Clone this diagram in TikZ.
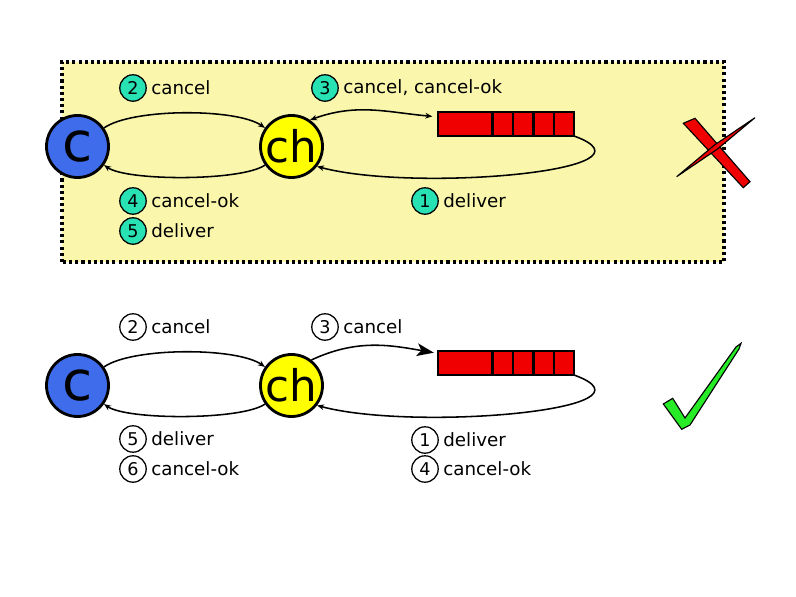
\documentclass[tikz,border=0pt]{standalone}
\usepackage{fontspec}
\setmainfont{DejaVu Sans}
\usetikzlibrary{arrows.meta,positioning,calc}

\definecolor{consumerblue}{RGB}{62,108,234}
\definecolor{channelyellow}{RGB}{255,255,0}
\definecolor{queuered}{RGB}{240,0,0}
\definecolor{stepteal}{RGB}{40,226,180}
\definecolor{boxyellow}{RGB}{250,247,172}
\definecolor{tickgreen}{RGB}{40,235,40}

\begin{document}
\begin{tikzpicture}[x=0.025cm,y=0.025cm,
    >={Stealth[length=5pt,width=4pt]},
    peer/.style={circle,draw,line width=2pt,minimum size=1.55cm,inner sep=0pt},
    queue/.style={draw,line width=1.8pt,fill=queuered,minimum width=3.4cm,minimum height=0.6cm,inner sep=0pt,outer sep=0pt},
    num/.style={circle,draw,line width=0.9pt,minimum size=0.66cm,inner sep=0pt,font=\fontsize{12.5}{14}\selectfont},
    lbl/.style={right=3pt of #1,inner sep=0pt,font=\fontsize{13}{15}\selectfont},
    msg/.style={line width=1.1pt,->},
  ]
    \useasboundingbox (0,0) rectangle (796,597);
    \fill[white] (0,0) rectangle (796,597);

    % top: the wrong way
    \filldraw[fill=boxyellow,line width=2.2pt,dash pattern=on 2.2pt off 2.2pt] (62,335) rectangle (724,535);

    \node[peer,fill=consumerblue,font=\fontsize{39}{40}\selectfont] (c1) at (77.5,450.5) {c};
    \node[peer,fill=channelyellow,font=\fontsize{31}{32}\selectfont] (ch1) at (291.5,450.5) {ch};
    \node[queue] (q1) at (506,473) {};
    \foreach \d in {54.5,75,95.5,116}
        \draw[line width=1.8pt] ($(q1.north west)+(\d,0)$) -- ($(q1.south west)+(\d,0)$);

    \draw[msg] (c1) to[out=35,in=145,looseness=0.55] (ch1);
    \draw[msg] (ch1) to[out=215,in=-35,looseness=0.45] (c1);
    \draw[msg,<->,shorten >=4pt] (ch1.55) to[out=20,in=175] (q1.174);
    \draw[msg] (q1.south east) to[out=-20,in=-15] (ch1.-38);

    \node[num,fill=stepteal] (n2a) at (133,509) {2};
    \node[lbl=n2a] (t2a) {cancel};
    \node[num,fill=stepteal] (n3a) at (325,509) {3};
    \node[lbl=n3a] (t3a) {cancel, cancel-ok};
    \node[num,fill=stepteal] (n4a) at (133,396) {4};
    \node[lbl=n4a] (t4a) {cancel-ok};
    \node[num,fill=stepteal] (n5a) at (133,366) {5};
    \node[lbl=n5a] (t5a) {deliver};
    \node[num,fill=stepteal] (n1a) at (425,396) {1};
    \node[lbl=n1a] (t1a) {deliver};

    % red cross
    \filldraw[fill=queuered,line width=0.8pt] (683.3,473.7) -- (695,478.7) -- (750,415.3) -- (743.3,409.3) -- cycle;
    \filldraw[fill=queuered,line width=0.8pt] (676.7,420.3) -- (714.5,452) -- (755,479.3) -- (717.5,448) -- cycle;

    % bottom: the right way
    \node[peer,fill=consumerblue,font=\fontsize{39}{40}\selectfont] (c2) at (77.5,211.5) {c};
    \node[peer,fill=channelyellow,font=\fontsize{31}{32}\selectfont] (ch2) at (291.5,211.5) {ch};
    \node[queue] (q2) at (506,234) {};
    \foreach \d in {54.5,75,95.5,116}
        \draw[line width=1.8pt] ($(q2.north west)+(\d,0)$) -- ($(q2.south west)+(\d,0)$);

    \draw[msg] (c2) to[out=35,in=145,looseness=0.55] (ch2);
    \draw[msg] (ch2) to[out=215,in=-35,looseness=0.45] (c2);
    \draw[line width=1.1pt,-{Stealth[length=12pt,width=9pt,inset=3pt]},shorten >=3pt] (ch2.52) to[out=25,in=170] (q2.172);
    \draw[msg] (q2.south east) to[out=-20,in=-15] (ch2.-38);

    \node[num,fill=white] (n2b) at (133,270) {2};
    \node[lbl=n2b] (t2b) {cancel};
    \node[num,fill=white] (n3b) at (325,270) {3};
    \node[lbl=n3b] (t3b) {cancel};
    \node[num,fill=white] (n5b) at (133,158) {5};
    \node[lbl=n5b] (t5b) {deliver};
    \node[num,fill=white] (n6b) at (133,128) {6};
    \node[lbl=n6b] (t6b) {cancel-ok};
    \node[num,fill=white] (n1b) at (425,157) {1};
    \node[lbl=n1b] (t1b) {deliver};
    \node[num,fill=white] (n4b) at (425,128) {4};
    \node[lbl=n4b] (t4b) {cancel-ok};

    % green tick
    \filldraw[fill=tickgreen,line width=0.8pt] (663.3,193) -- (672.7,198.7) -- (685,179) -- (736,250)
        -- (741,253.7) -- (739,248) -- (690,172) -- (681.7,167.7) -- cycle;
\end{tikzpicture}
\end{document}
